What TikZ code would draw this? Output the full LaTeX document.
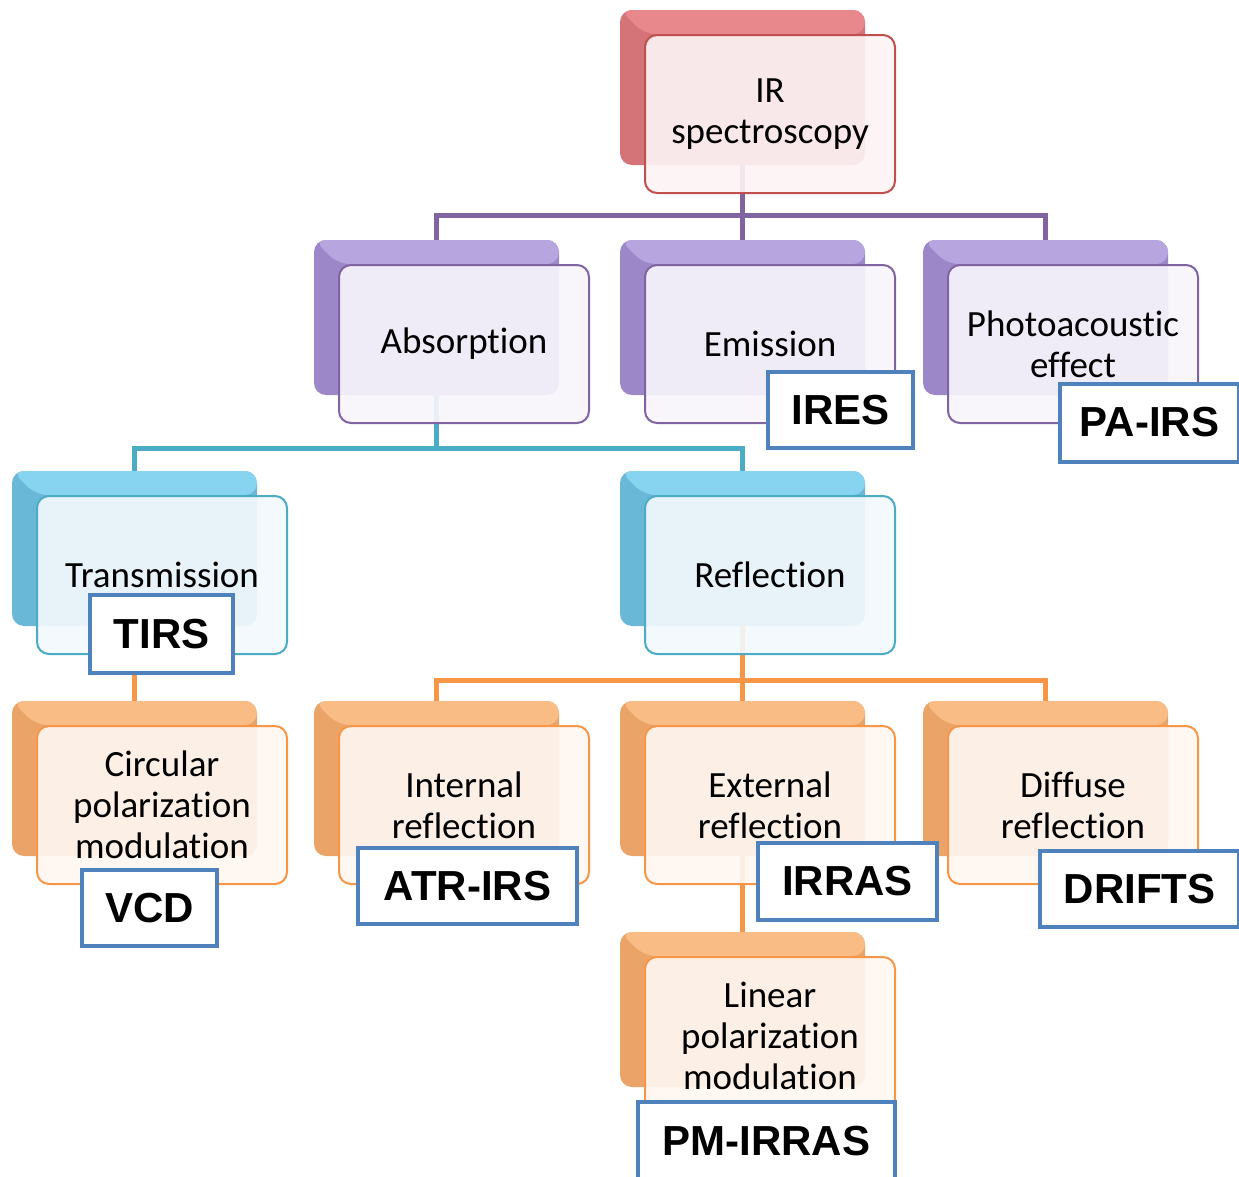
\documentclass[tikz,border=0pt]{standalone}
\usepackage{fontspec}
\setmainfont{Carlito}[Ligatures={CommonOff,ContextualOff}]
\newfontfamily\labfont{Liberation Sans}
\definecolor{rD}{HTML}{C0504D}\definecolor{rBa}{HTML}{D47378}\definecolor{rBb}{HTML}{E8878C}\definecolor{rF}{HTML}{FDF3F4}
\definecolor{pD}{HTML}{8064A2}\definecolor{pBa}{HTML}{9C88C8}\definecolor{pBb}{HTML}{B7A5E0}\definecolor{pF}{HTML}{F7F5FB}
\definecolor{bD}{HTML}{4BACC6}\definecolor{bBa}{HTML}{6AB8D8}\definecolor{bBb}{HTML}{86D4F0}\definecolor{bF}{HTML}{F2F8FC}
\definecolor{oD}{HTML}{F79646}\definecolor{oBa}{HTML}{EAA468}\definecolor{oBb}{HTML}{F9BC84}\definecolor{oF}{HTML}{FEF6F1}
\definecolor{labblue}{HTML}{4F81BD}
\tikzset{
 bk/.style 2 args={rounded corners=12pt, minimum width=245pt, minimum height=155pt, inner sep=0pt, fill=#1,
   path picture={\fill[#2] (path picture bounding box.north west) -- (path picture bounding box.north east) -- ([yshift=-24pt]path picture bounding box.north east) -- ([xshift=24pt,yshift=-24pt]path picture bounding box.north west) -- cycle;}},
 fr/.style 2 args={draw=#1, line width=2pt, fill=#2, fill opacity=0.92, text opacity=1, rounded corners=12pt, minimum width=250pt, minimum height=158pt, inner sep=0pt, align=center, font={\fontsize{37pt}{41pt}\selectfont}},
 lab/.style={draw=labblue, line width=4pt, fill=white, inner sep=0pt, font={\labfont\bfseries\fontsize{42pt}{50pt}\selectfont}},
 con/.style={line width=5pt, draw=#1}
}
\begin{document}
\begin{tikzpicture}[x=1pt,y=-1pt]
\useasboundingbox (0,0) rectangle (1239,1176);
% back boxes
\node[bk={rBa}{rBb}] (irB) at (742.5,87.5) {};
\node[bk={pBa}{pBb}] (absB) at (436.5,317.5) {};
\node[bk={pBa}{pBb}] (emiB) at (742.5,317.5) {};
\node[bk={pBa}{pBb}] (phoB) at (1045.5,317.5) {};
\node[bk={bBa}{bBb}] (traB) at (134.5,548.5) {};
\node[bk={bBa}{bBb}] (refB) at (742.5,548.5) {};
\node[bk={oBa}{oBb}] (cirB) at (134.5,778.5) {};
\node[bk={oBa}{oBb}] (intB) at (436.5,778.5) {};
\node[bk={oBa}{oBb}] (extB) at (742.5,778.5) {};
\node[bk={oBa}{oBb}] (difB) at (1045.5,778.5) {};
\node[bk={oBa}{oBb}] (linB) at (742.5,1009.5) {};
% bus levels
\coordinate (busA) at (0,215);
\coordinate (busB) at (0,448);
\coordinate (busC) at (0,680);
% connectors
\draw[con=pD] (irB.south) -- (irB.south |- busA);
\draw[con=pD] (absB.north) |- (phoB.north |- busA) -- (phoB.north);
\draw[con=pD] (emiB.north) -- (emiB.north |- busA);
\draw[con=bD] (absB.south) -- (absB.south |- busB);
\draw[con=bD] (traB.north) |- (refB.north |- busB) -- (refB.north);
\draw[con=oD] (refB.south) -- (refB.south |- busC);
\draw[con=oD] (intB.north) |- (difB.north |- busC) -- (difB.north);
\draw[con=oD] (extB.north) -- (extB.north |- busC);
\draw[con=oD] (traB.south) -- (cirB.north);
\draw[con=oD] (extB.south) -- (linB.north);
% front boxes
\node[fr={rD}{rF}] (ir) at (770,114) {IR\\spectroscopy};
\node[fr={pD}{pF}] (abs) at (464,344) {Absorption};
\node[fr={pD}{pF}] (emi) at (770,344) {Emission};
\node[fr={pD}{pF}] (pho) at (1073,344) {Photoacoustic\\effect};
\node[fr={bD}{bF}] (tra) at (162,575) {Transmission};
\node[fr={bD}{bF}] (ref) at (770,575) {Reflection};
\node[fr={oD}{oF}] (cir) at (162,805) {Circular\\polarization\\modulation};
\node[fr={oD}{oF}] (int) at (464,805) {Internal\\reflection};
\node[fr={oD}{oF}] (ext) at (770,805) {External\\reflection};
\node[fr={oD}{oF}] (dif) at (1073,805) {Diffuse\\reflection};
\node[fr={oD}{oF}] (lin) at (770,1036) {Linear\\polarization\\modulation};
% technique labels
\node[lab, minimum width=145pt, minimum height=76pt] (ires) at (840.5,410) {IRES};
\node[lab, minimum width=179pt, minimum height=78pt] (pairs) at (1149.5,422.5) {PA-IRS};
\node[lab, minimum width=143pt, minimum height=78pt] (tirs) at (161.5,634) {TIRS};
\node[lab, minimum width=135pt, minimum height=76pt] (vcd) at (149.5,908) {VCD};
\node[lab, minimum width=219pt, minimum height=76pt] (atr) at (467.5,886) {ATR-IRS};
\node[lab, minimum width=179pt, minimum height=77pt] (irras) at (847.5,881.5) {IRRAS};
\node[lab, minimum width=199pt, minimum height=76pt] (drifts) at (1139.5,889) {DRIFTS};
\node[lab, minimum width=257pt, minimum height=78pt] (pmirras) at (766.5,1141) {PM-IRRAS};
\end{tikzpicture}
\end{document}
